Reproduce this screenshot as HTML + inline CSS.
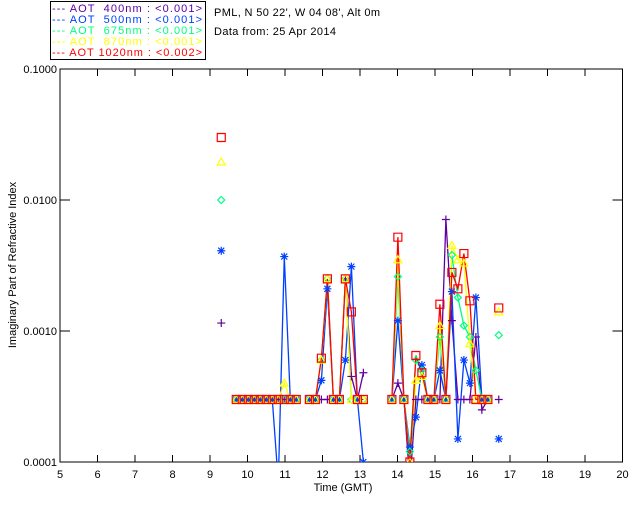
<!DOCTYPE html>
<html><head><meta charset="utf-8"><style>
body{margin:0;background:#fff;}
svg{display:block;font-family:"Liberation Sans",sans-serif;}
</style></head><body>
<svg id="chart" width="640" height="512" viewBox="0 0 640 512" xmlns="http://www.w3.org/2000/svg">
<rect width="640" height="512" fill="#fff"/>
<g>
<rect x="50.5" y="1.5" width="155" height="58" fill="#fff" stroke="#000"/>
<text x="52" y="12" font-size="11" fill="#6000a0" textLength="150" lengthAdjust="spacing" xml:space="preserve">--- AOT  400nm : &lt;0.001&gt;</text>
<text x="52" y="23" font-size="11" fill="#0040ff" textLength="150" lengthAdjust="spacing" xml:space="preserve">--- AOT  500nm : &lt;0.001&gt;</text>
<text x="52" y="34" font-size="11" fill="#00ff80" textLength="150" lengthAdjust="spacing" xml:space="preserve">--- AOT  675nm : &lt;0.001&gt;</text>
<text x="52" y="45" font-size="11" fill="#ffff00" textLength="150" lengthAdjust="spacing" xml:space="preserve">--- AOT  870nm : &lt;0.001&gt;</text>
<text x="52" y="56" font-size="11" fill="#ff0000" textLength="150" lengthAdjust="spacing" xml:space="preserve">--- AOT 1020nm : &lt;0.002&gt;</text>
</g>
<text x="214" y="16" font-size="11" textLength="166" lengthAdjust="spacing">PML, N 50 22', W 04 08', Alt 0m</text>
<text x="214" y="35" font-size="11" textLength="122" lengthAdjust="spacing">Data from: 25 Apr 2014</text>
<g id="axes"></g>
<g id="marks"></g>
<text x="343" y="491" font-size="11" text-anchor="middle">Time (GMT)</text>
<text transform="translate(16,265) rotate(-90)" font-size="11" text-anchor="middle">Imaginary Part of Refractive Index</text>
</svg>
<script>
const times = [9.3, 9.70,9.86,10.02,10.18,10.34,10.50,10.66,10.82,10.98,11.14,11.30,
 11.65,11.81,11.97,12.13,12.29,12.45,12.61,12.77,12.93,13.09,
 13.85,14.01,14.17,14.33,14.49,14.65,14.81,14.97,15.13,15.29,15.45,15.61,15.77,15.93,16.09,16.25,16.41, 16.7];
const v400 = [0.00115, 0.0003,0.0003,0.0003,0.0003,0.0003,0.0003,0.0003,0.0003,0.0003,0.0003,0.0003,
 0.0003,0.0003,0.0003,0.0003,0.0003,0.0003,0.0025,0.00045,0.0003,0.00048,
 0.0003,0.0004,0.0003,0.00007,0.0003,0.0003,0.0003,0.0003,0.0003,0.0071,0.0012,0.0003,0.0003,0.0003,0.0009,0.00025,0.0003, 0.0003];
const v500 = [0.0041, 0.0003,0.0003,0.0003,0.0003,0.0003,0.0003,0.0003,0.00007,0.0037,0.0003,0.0003,
 0.0003,0.0003,0.00042,0.0021,0.0003,0.0003,0.0006,0.0031,0.0003,0.0001,
 0.0003,0.0012,0.0003,0.00013,0.00022,0.00055,0.0003,0.0003,0.0005,0.0003,0.002,0.00015,0.0006,0.0004,0.0018,0.0003,0.0003, 0.00015];
const v675 = [0.01, 0.0003,0.0003,0.0003,0.0003,0.0003,0.0003,0.0003,0.0003,0.0003,0.0003,0.0003,
 0.0003,0.0003,0.0006,0.0025,0.0003,0.0003,0.0025,0.0003,0.0003,0.0003,
 0.0003,0.0026,0.0003,0.00012,0.0006,0.0005,0.0003,0.0003,0.0009,0.0003,0.0038,0.0018,0.0011,0.0009,0.0005,0.0003,0.0003, 0.00093];
const v870 = [0.0195, 0.0003,0.0003,0.0003,0.0003,0.0003,0.0003,0.0003,0.0003,0.0004,0.0003,0.0003,
 0.0003,0.0003,0.0006,0.0025,0.0003,0.0003,0.0025,0.0003,0.0003,0.0003,
 0.0003,0.0035,0.0003,0.0001,0.00042,0.00045,0.0003,0.0003,0.0011,0.0003,0.0045,0.0035,0.0033,0.0008,0.0003,0.0003,0.0003, 0.0014];
const v1020 = [0.030, 0.0003,0.0003,0.0003,0.0003,0.0003,0.0003,0.0003,0.0003,0.0003,0.0003,0.0003,
 0.0003,0.0003,0.00062,0.0025,0.0003,0.0003,0.0025,0.0014,0.0003,0.0003,
 0.0003,0.0052,0.0003,0.0001,0.00065,0.00048,0.0003,0.0003,0.0016,0.0003,0.0028,0.0021,0.0039,0.0017,0.0003,0.0003,0.0003, 0.0015];
const xTicks = [5,6,7,8,9,10,11,12,13,14,15,16,17,18,19,20];
const yTicks = [0.0001,0.001,0.01,0.1];
const yTickLabels = ["0.0001","0.0010","0.0100","0.1000"];

const L=60,R=622.5,T=69,B=462, X0=5,X1=20, LY0=-4, LY1=-1;
const sx = t => L + (t-X0)/(X1-X0)*(R-L);
const sy = v => B - (Math.log10(v)-LY0)/(LY1-LY0)*(B-T);
const NS="http://www.w3.org/2000/svg";
function mk(tag, attrs, parent){const e=document.createElementNS(NS,tag);for(const k in attrs)e.setAttribute(k,attrs[k]);parent.appendChild(e);return e;}
const axes=document.getElementById('axes'), marks=document.getElementById('marks');
const frame=mk('rect',{x:L,y:T,width:R-L,height:B-T,fill:'none',stroke:'#000','stroke-width':1},axes);


xTicks.forEach(t=>{
  const x=sx(t);
  const tk=mk('path',{d:`M${x},${B}V${B-7}M${x},${T}V${T+7}`,stroke:'#000'},axes);
  
  
  const lb=mk('text',{x:x,y:B+16,'font-size':11,'text-anchor':'middle'},axes);
  lb.textContent=t;
  
  
});
yTicks.forEach((v,i)=>{
  const y=sy(v);
  const tk=mk('path',{d:`M${L},${y}H${L+10}M${R},${y}H${R-10}`,stroke:'#000'},axes);
  
  
  const lb=mk('text',{x:L-3,y:y+4,'font-size':11,'text-anchor':'end'},axes);
  lb.textContent=yTickLabels[i];
  
  
});
const cp=mk('clipPath',{id:'clip'},axes);
mk('rect',{x:L,y:T,width:R-L,height:B-T},cp);
marks.setAttribute('clip-path','url(#clip)');

const series=[
 {name:'400',vals:v400,color:'#6000a0',m:'plus'},
 {name:'500',vals:v500,color:'#0040ff',m:'star'},
 {name:'675',vals:v675,color:'#00ff80',m:'diamond'},
 {name:'870',vals:v870,color:'#ffff00',m:'triangle'},
 {name:'1020',vals:v1020,color:'#ff0000',m:'square'}];
function marker(type,x,y){
  if(type==='plus')return `M${x-4},${y}H${x+4}M${x},${y-4}V${y+4}`;
  if(type==='star')return `M${x-4},${y}H${x+4}M${x},${y-4}V${y+4}M${x-3},${y-3}L${x+3},${y+3}M${x-3},${y+3}L${x+3},${y-3}`;
  if(type==='diamond')return `M${x},${y-3.5}L${x+3.5},${y}L${x},${y+3.5}L${x-3.5},${y}Z`;
  if(type==='triangle')return `M${x},${y-4}L${x+4},${y+3}L${x-4},${y+3}Z`;
  return `M${x-4},${y-4}H${x+4}V${y+4}H${x-4}Z`;
}
series.forEach(s=>{
  let d='';
  for(let i=0;i<times.length;i++){
    const x=sx(times[i]), y=sy(s.vals[i]);
    const brk = i===0 || times[i]-times[i-1]>0.25;
    d+=(brk?'M':'L')+x.toFixed(1)+','+y.toFixed(1);
  }
  const ln=mk('path',{d:d,fill:'none',stroke:s.color,'stroke-width':1.3},marks);
  
  
});
series.forEach(s=>{
  for(let i=0;i<times.length;i++){
    const x=sx(times[i]), y=sy(s.vals[i]);
    const p=mk('path',{d:marker(s.m,x,y),fill:'none',stroke:s.color,'stroke-width':1.2},marks);
    
    
  }
});
</script>
</body></html>
